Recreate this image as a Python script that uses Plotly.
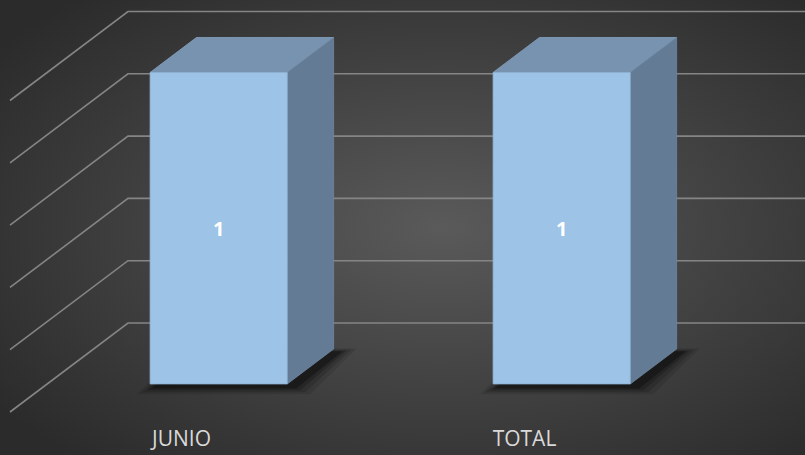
import base64
import plotly.graph_objects as go

# --- data -------------------------------------------------------------
categories = ["JUNIO", "TOTAL"]
values = [1, 1]
grid_values = [0, 0.2, 0.4, 0.6, 0.8, 1.0]

# --- oblique 3D projection settings (data units) ----------------------
DX = 0.344      # horizontal shift of the full floor depth, in category units
DY = 0.2857     # vertical shift of the full floor depth, in value units
BAR_HALF = 0.2  # half bar width, category units
D_FRONT = 0.315 # depth of the bar front face (0 = floor front, 1 = back wall)
D_BACK = 0.708  # depth of the bar back face

FRONT_COLOR = "#9dc3e6"
TOP_COLOR = "#7893b0"
SIDE_COLOR = "#647b95"
GRID_COLOR = "#858585"


def proj(x, v, d):
    """Project (category x, value v, depth d) onto the 2D axes."""
    return x + d * DX, v + d * DY


def poly(points):
    xs = [p[0] for p in points] + [points[0][0]]
    ys = [p[1] for p in points] + [points[0][1]]
    return xs, ys


fig = go.Figure()

# gridlines: diagonal on the left wall, horizontal on the back wall
x_left, x_right = -0.5, len(categories) - 0.5
for g in grid_values:
    p0 = proj(x_left, g, 0)
    p1 = proj(x_left, g, 1)
    p2 = proj(x_right, g, 1)
    fig.add_trace(go.Scatter(
        x=[p0[0], p1[0], p2[0]], y=[p0[1], p1[1], p2[1]],
        mode="lines", line=dict(color=GRID_COLOR, width=1.6),
        hoverinfo="skip", showlegend=False))

# soft shadows under each bar
for i, v in enumerate(values):
    for ex, op in [(18, 0.10), (13, 0.14), (8, 0.2), (4, 0.3)]:
        exx = ex / 343
        exy = ex / 311.5
        sx = 5 / 343
        sy = -3 / 311.5
        pts = [
            proj(i - BAR_HALF - exx + sx, -exy * 0.4 + sy, D_FRONT),
            proj(i + BAR_HALF + exx + sx, -exy * 0.4 + sy, D_FRONT),
            proj(i + BAR_HALF + exx + sx, exy * 0.2 + sy, D_BACK),
            proj(i - BAR_HALF - exx + sx, exy * 0.2 + sy, D_BACK),
        ]
        xs, ys = poly(pts)
        fig.add_trace(go.Scatter(
            x=xs, y=ys, mode="lines", fill="toself",
            fillcolor=f"rgba(0,0,0,{op})", line=dict(width=0),
            hoverinfo="skip", showlegend=False))

# bars: top, side and front faces
for i, v in enumerate(values):
    xl, xr = i - BAR_HALF, i + BAR_HALF
    top = [proj(xl, v, D_FRONT), proj(xr, v, D_FRONT),
           proj(xr, v, D_BACK), proj(xl, v, D_BACK)]
    side = [proj(xr, 0, D_FRONT), proj(xr, 0, D_BACK),
            proj(xr, v, D_BACK), proj(xr, v, D_FRONT)]
    front = [proj(xl, 0, D_FRONT), proj(xr, 0, D_FRONT),
             proj(xr, v, D_FRONT), proj(xl, v, D_FRONT)]
    for pts, col, edge in [(top, TOP_COLOR, "#86a2bf"),
                           (side, SIDE_COLOR, "#6f87a1"),
                           (front, FRONT_COLOR, "#8fb1d2")]:
        xs, ys = poly(pts)
        fig.add_trace(go.Scatter(
            x=xs, y=ys, mode="lines", fill="toself", fillcolor=col,
            line=dict(color=edge, width=0.8),
            hoverinfo="skip", showlegend=False))

# value labels on the front faces
lx, ly = [], []
for i, v in enumerate(values):
    px, py = proj(i, v / 2, D_FRONT)
    lx.append(px)
    ly.append(py - 0.008)
fig.add_trace(go.Scatter(
    x=lx, y=ly, mode="text", text=[str(v) for v in values],
    textfont=dict(family="Open Sans", size=20, color="#ffffff", weight="bold"),
    hoverinfo="skip", showlegend=False))

# category labels along the floor front
fig.add_trace(go.Scatter(
    x=list(range(len(categories))), y=[-0.093] * len(categories),
    mode="text", text=categories,
    textfont=dict(family="Open Sans", size=21, color="#d9d9d9"),
    hoverinfo="skip", showlegend=False))

# radial background gradient
svg = (
    '<svg xmlns="http://www.w3.org/2000/svg" width="805" height="455">'
    '<defs><radialGradient id="g" cx="0.55" cy="0.5" r="0.68">'
    '<stop offset="0" stop-color="#5a5a5a"/>'
    '<stop offset="1" stop-color="#2b2b2b"/>'
    '</radialGradient></defs>'
    '<rect width="805" height="455" fill="url(#g)"/></svg>'
)
bg_uri = "data:image/svg+xml;base64," + base64.b64encode(svg.encode()).decode()

fig.update_layout(
    width=805, height=455,
    margin=dict(l=0, r=0, t=0, b=0),
    paper_bgcolor="#3c3c3c", plot_bgcolor="rgba(0,0,0,0)",
    images=[dict(source=bg_uri, xref="paper", yref="paper", x=0, y=1,
                 sizex=1, sizey=1, sizing="stretch", layer="below")],
    xaxis=dict(range=[-181.5 / 343, (805 - 181.5) / 343], visible=False,
               fixedrange=True),
    yaxis=dict(range=[(412 - 455) / 311.5, 412 / 311.5], visible=False,
               fixedrange=True),
    showlegend=False,
)

fig.write_html("out.html")
